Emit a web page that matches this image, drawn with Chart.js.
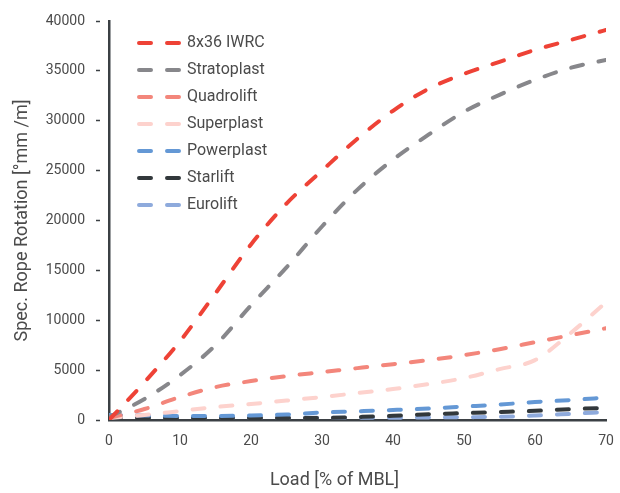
<!DOCTYPE html>
<html>
<head>
<meta charset="utf-8">
<script src="https://cdn.jsdelivr.net/npm/chart.js@4/dist/chart.umd.min.js"></script>
<style>
  html, body { margin: 0; padding: 0; background: #ffffff; }
  #wrap { width: 620px; height: 493px; }
</style>
</head>
<body>
<div id="wrap"><canvas id="c" width="620" height="493"></canvas></div>
<script>
// ---- data ----
const loadPct = [0, 5, 10, 15, 20, 25, 30, 35, 40, 45, 50, 55, 60, 65, 70];
const seriesNames = ['8x36 IWRC', 'Stratoplast', 'Quadrolift', 'Superplast', 'Powerplast', 'Starlift', 'Eurolift'];
const iwrc8x36   = [0, 3800, 7900, 12700, 17600, 21700, 25000, 28200, 31000, 33200, 34700, 35900, 37100, 38100, 39100];
const stratoplast= [300, 2100, 4500, 7500, 11500, 15300, 19400, 23100, 26100, 28600, 30900, 32600, 34100, 35300, 36100];
const quadrolift = [200, 1100, 2300, 3300, 3900, 4400, 4800, 5200, 5600, 6000, 6500, 7100, 7800, 8500, 9200];
const superplast = [200, 500, 900, 1300, 1600, 1950, 2300, 2700, 3100, 3600, 4200, 5100, 6000, 8700, 11800];
const powerplast = [500, 450, 400, 400, 450, 550, 750, 870, 1000, 1150, 1350, 1550, 1800, 2000, 2250];
const starlift   = [300, 200, 200, 200, 200, 200, 200, 300, 420, 580, 690, 800, 920, 1090, 1220];
const eurolift   = [400, 300, 250, 230, 220, 220, 220, 220, 220, 250, 280, 320, 450, 620, 800];
const xTitle = 'Load [% of MBL]';
const yTitle = 'Spec. Rope Rotation [°mm /m]';

const allSeries = [iwrc8x36, stratoplast, quadrolift, superplast, powerplast, starlift, eurolift];
const colors = ['#ee4236', '#87878b', '#f3867b', '#fdd2cd', '#6498d5', '#32383b', '#8eaadc'];

const axisColor = '#3b4044';
const textColor = '#4b4b4b';
const FONT = 'Roboto, "Liberation Sans", sans-serif';

const datasets = allSeries.map((vals, i) => ({
  label: seriesNames[i],
  data: vals.map((v, j) => ({ x: loadPct[j], y: v })),
  borderColor: colors[i],
  backgroundColor: colors[i],
  borderWidth: 4,
  borderDash: [12, 16],
  borderCapStyle: 'round',
  pointRadius: 0,
  cubicInterpolationMode: 'monotone',
  fill: false
}));

// legend positioned inside the plot area (top-left), taking no layout space
const legendInside = {
  id: 'legendInside',
  beforeLayout(chart) {
    const lg = chart.legend;
    if (lg && !lg._insidePatched) {
      const origFit = lg.fit.bind(lg);
      lg.fit = function () { origFit(); this.width = 0; };
      lg._insidePatched = true;
    }
  },
  afterLayout(chart) {
    const lg = chart.legend;
    if (lg) {
      lg.left = 120; lg.top = 24; lg.width = 260; lg.height = 300;
      lg.right = lg.left + lg.width; lg.bottom = lg.top + lg.height;
    }
    const xs = chart.scales.x;
    if (xs && !xs._titlePatched) {
      const orig = xs.drawTitle.bind(xs);
      xs.drawTitle = function () {
        const ctx = this.ctx;
        ctx.save();
        ctx.translate(-23, 0);
        orig();
        ctx.restore();
      };
      xs._titlePatched = true;
    }
  }
};

new Chart(document.getElementById('c'), {
  type: 'line',
  data: { datasets },
  plugins: [legendInside],
  options: {
    responsive: false,
    animation: false,
    devicePixelRatio: 1,
    layout: { padding: { top: 21, right: 14, left: 0, bottom: 0 } },
    plugins: {
      tooltip: { enabled: false },
      legend: {
        display: true,
        position: 'left',
        align: 'start',
        labels: {
          usePointStyle: true,
          pointStyleWidth: 48,
          boxHeight: 16,
          padding: 11,
          color: textColor,
          font: { family: FONT, size: 16 },
          generateLabels(chart) {
            return chart.data.datasets.map((ds, i) => ({
              text: ds.label,
              fillStyle: 'rgba(0,0,0,0)',
              strokeStyle: ds.borderColor,
              lineWidth: 4,
              lineDash: [12, 16],
              lineDashOffset: 20,
              lineCap: 'round',
              pointStyle: 'line',
              fontColor: textColor,
              hidden: false,
              datasetIndex: i
            }));
          }
        }
      }
    },
    scales: {
      x: {
        type: 'linear',
        min: 0, max: 70,
        ticks: { stepSize: 10, padding: 13, color: textColor, font: { family: FONT, size: 14 }, maxRotation: 0 },
        grid: { drawOnChartArea: false, drawTicks: false },
        border: { color: axisColor, width: 2.5 },
        title: { display: true, text: xTitle, color: textColor, font: { family: FONT, size: 18 }, padding: { top: 0, bottom: 2 } },
        afterFit(s) { s.height = 73; s.paddingRight = 4; s.paddingLeft = 0; }
      },
      y: {
        type: 'linear',
        min: 0, max: 40000,
        ticks: {
          stepSize: 5000, padding: 11, color: textColor, font: { family: FONT, size: 14 },
          callback: (v) => String(v)
        },
        grid: { drawOnChartArea: false, drawTicks: true, tickLength: 13, tickBorderDash: [4, 30], tickColor: axisColor, tickWidth: 1.5 },
        border: { color: axisColor, width: 2.5 },
        title: { display: true, text: yTitle, color: textColor, font: { family: FONT, size: 18 }, padding: { top: 12, bottom: 0 } },
        afterFit(s) { s.width = 109; }
      }
    }
  }
});
</script>
</body>
</html>
